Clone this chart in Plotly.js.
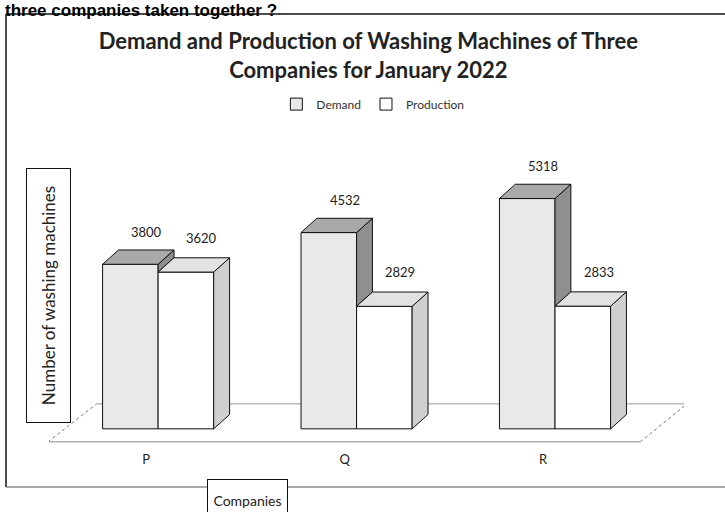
<!DOCTYPE html>
<html>
<head>
<meta charset="utf-8">
<script src="https://cdn.plot.ly/plotly-3.0.1.min.js"></script>
<style>html,body{margin:0;padding:0;background:#fff;}#chart{width:725px;height:512px;}</style>
</head>
<body>
<div id="chart"></div>
<script>
// ---- data ----
const companies = ['P', 'Q', 'R'];
const demand = [3800, 4532, 5318];
const production = [3620, 2829, 2833];
const seriesNames = ['Demand', 'Production'];

// ---- geometry (styles) ----
const W = 0.28;      // bar width in category units
const DX = 0.08;     // 3D depth offset (x, category units)
const DY = 330;      // 3D depth offset (y, value units)
const FONT = 'Lato, "Open Sans", sans-serif';
const idx = companies.map((c, i) => i);

const traces = [];
// front faces (bars)
traces.push({
  type: 'bar', name: seriesNames[0], x: idx, y: demand,
  width: W, offset: -W,
  marker: {color: '#e9e9e9', line: {color: '#111', width: 1}},
  hoverinfo: 'skip'
});
traces.push({
  type: 'bar', name: seriesNames[1], x: idx, y: production,
  width: W, offset: 0,
  marker: {color: '#ffffff', line: {color: '#111', width: 1}},
  hoverinfo: 'skip'
});

function poly(xs, ys, fill) {
  traces.push({
    type: 'scatter', mode: 'lines', x: xs.concat([xs[0]]), y: ys.concat([ys[0]]),
    fill: 'toself', fillcolor: fill, line: {color: '#111', width: 1},
    showlegend: false, hoverinfo: 'skip'
  });
}

idx.forEach(function (c, i) {
  const v = demand[i], p = production[i];
  const low = Math.min(p, v);
  // demand visible side (above production front)
  poly([c, c + DX, c + DX, c], [low, low + DY, v + DY, v], '#8f8f8f');
  // demand top
  poly([c - W, c - W + DX, c + DX, c], [v, v + DY, v + DY, v], '#a9a9a9');
  // production side
  poly([c + W, c + W + DX, c + W + DX, c + W], [0, DY, p + DY, p], '#cfcfcf');
  // production top
  poly([c, c + DX, c + W + DX, c + W], [p, p + DY, p + DY, p], '#e2e2e2');
});

// value labels
const annotations = [];
idx.forEach(function (c, i) {
  annotations.push({x: c - W / 2 + DX, y: demand[i] + DY, xref: 'x', yref: 'y', text: String(demand[i]),
    showarrow: false, yshift: 18, font: {family: FONT, size: 13, color: '#222'}});
  annotations.push({x: c + W / 2 + DX, y: production[i] + DY, xref: 'x', yref: 'y', text: String(production[i]),
    showarrow: false, yshift: 20, font: {family: FONT, size: 13, color: '#222'}});
});

// header text (partly cut off at top in the source)
annotations.push({xref: 'paper', yref: 'paper', x: -0.072, y: 1.576, xanchor: 'left', yanchor: 'middle',
  text: '<b>three companies taken together ?</b>', showarrow: false,
  font: {family: '"Liberation Sans", Arial, sans-serif', size: 17, color: '#000'}});
// y-axis title box
annotations.push({xref: 'paper', yref: 'paper', x: -0.0008, y: 0.54, xanchor: 'center', yanchor: 'middle',
  text: 'Number of washing machines', textangle: -90, showarrow: false,
  width: 251, height: 41, bordercolor: '#111', borderwidth: 1, bgcolor: '#fff',
  font: {family: FONT, size: 17, color: '#222'}});
// x-axis title box
annotations.push({xref: 'paper', yref: 'paper', x: 0.3126, y: -0.2036, xanchor: 'center', yanchor: 'middle',
  text: 'Companies', showarrow: false,
  width: 77, height: 38, bordercolor: '#111', borderwidth: 1, bgcolor: '#fff',
  font: {family: FONT, size: 14, color: '#222'}});

const shapes = [
  // outer frame
  {type: 'line', xref: 'paper', yref: 'paper', x0: -0.0677, x1: 1.08, y0: 1.5636, y1: 1.5636, line: {color: '#111', width: 1.5}},
  {type: 'line', xref: 'paper', yref: 'paper', x0: -0.0677, x1: -0.0677, y0: 1.5636, y1: -0.1564, line: {color: '#111', width: 1.5}},
  {type: 'line', xref: 'paper', yref: 'paper', x0: -0.0677, x1: 1.08, y0: -0.1564, y1: -0.1564, line: {color: '#555', width: 1}},
  // floor
  {type: 'line', xref: 'x', yref: 'y', layer: 'below', x0: -0.555, x1: 2.43, y0: -300, y1: -300, line: {color: '#888', width: 1}},
  {type: 'line', xref: 'x', yref: 'y', layer: 'below', x0: -0.31, x1: 2.665, y0: 577, y1: 577, line: {color: '#999', width: 1}},
  {type: 'line', xref: 'x', yref: 'y', layer: 'below', x0: -0.555, x1: -0.31, y0: -300, y1: 577, line: {color: '#777', width: 1, dash: 'dot'}},
  {type: 'line', xref: 'x', yref: 'y', layer: 'below', x0: 2.43, x1: 2.665, y0: -300, y1: 577, line: {color: '#777', width: 1, dash: 'dot'}}
];

const layout = {
  width: 725, height: 512,
  margin: {l: 49, r: 41, t: 169, b: 68},
  paper_bgcolor: '#fff', plot_bgcolor: '#fff',
  barmode: 'overlay',
  title: {
    text: '<b>Demand and Production of Washing Machines of Three<br>Companies for January 2022</b>',
    x: 0.508, xanchor: 'center', y: 0.904, yanchor: 'middle',
    font: {family: FONT, size: 22, color: '#222'}
  },
  showlegend: true,
  legend: {orientation: 'h', x: 0.51, xanchor: 'center', y: 1.236, yanchor: 'middle',
    font: {family: FONT, size: 12, color: '#333'}, traceorder: 'normal', itemwidth: 30},
  xaxis: {
    range: [-0.55, 2.65], tickmode: 'array', tickvals: idx, ticktext: companies,
    showgrid: false, zeroline: false, showline: false, ticks: '',
    ticklabelshift: -12, ticklabelstandoff: 6,
    tickfont: {family: FONT, size: 13, color: '#222'}, fixedrange: true
  },
  yaxis: {range: [-350, 6000], visible: false, showgrid: false, zeroline: false, fixedrange: true},
  annotations: annotations,
  shapes: shapes
};

Plotly.newPlot('chart', traces, layout, {displayModeBar: false, staticPlot: true});
</script>
</body>
</html>
